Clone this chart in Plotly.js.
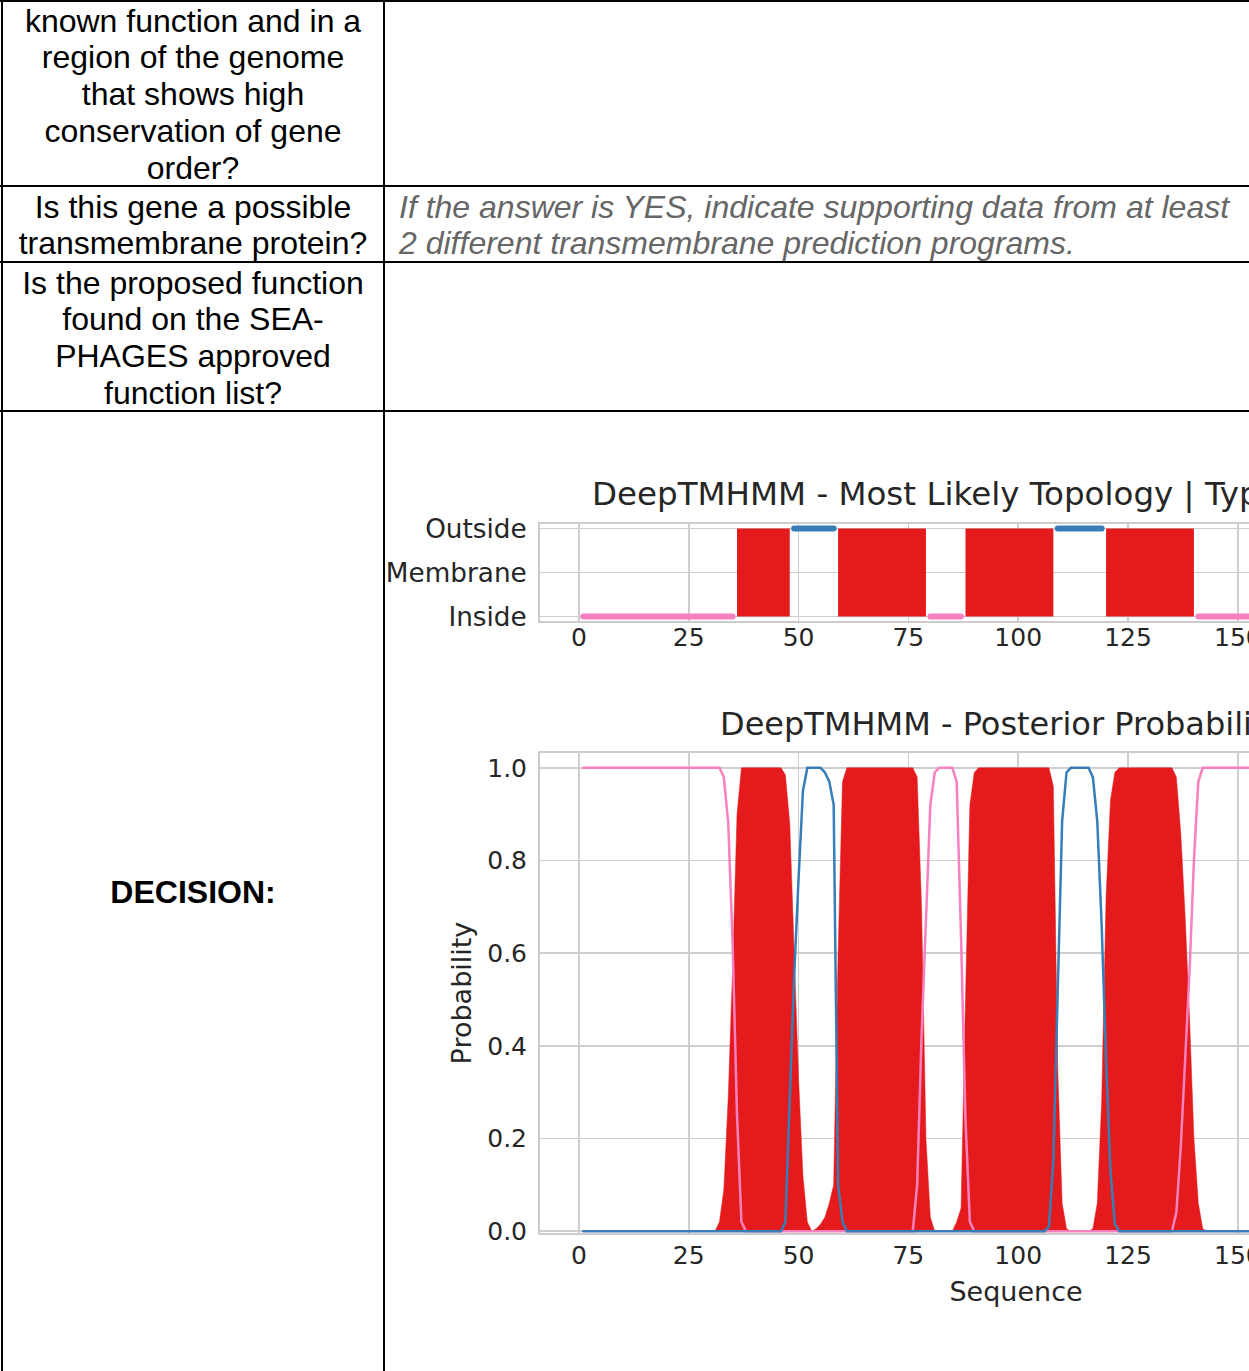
<!DOCTYPE html>
<html>
<head>
<meta charset="utf-8">
<script src="https://cdn.plot.ly/plotly-3.0.1.min.js"></script>
<style>
  html, body { margin:0; padding:0; background:#fff; }
  body { width:1249px; height:1371px; overflow:hidden; position:relative; }
  .ln { position:absolute; background:#000; }
  .txt { position:absolute; font-family:"Liberation Sans", Arial, sans-serif; font-size:32px; line-height:36.75px; color:#000; white-space:nowrap; }
  .left { left:3px; width:380px; text-align:center; }
  .chart { position:absolute; }
  .js-line { stroke-linecap: round; }
</style>
</head>
<body>
<!-- table borders -->
<div class="ln" style="left:0px; top:0px; width:1249px; height:2px;"></div>
<div class="ln" style="left:1px; top:0px; width:2px; height:1371px;"></div>
<div class="ln" style="left:383px; top:0px; width:2px; height:1371px;"></div>
<div class="ln" style="left:0px; top:185px; width:1249px; height:2px;"></div>
<div class="ln" style="left:0px; top:261px; width:1249px; height:2px;"></div>
<div class="ln" style="left:0px; top:410px; width:1249px; height:2px;"></div>

<div class="txt left" style="top:2.6px;">known function and in a<br>region of the genome<br>that shows high<br>conservation of gene<br>order?</div>
<div class="txt left" style="top:188.6px;">Is this gene a possible<br>transmembrane protein?</div>
<div class="txt left" style="top:264.6px;">Is the proposed function<br>found on the SEA-<br>PHAGES approved<br>function list?</div>
<div class="txt left" style="top:873.6px; font-weight:bold;">DECISION:</div>
<div class="txt" style="left:399px; top:188.6px; font-style:italic; color:#666666;">If the answer is YES, indicate supporting data from at least<br>2 different transmembrane prediction programs.</div>

<div id="topo" class="chart" style="left:384px; top:440px; width:1130px; height:230px;"></div>
<div id="post" class="chart" style="left:384px; top:680px; width:1130px; height:660px;"></div>

<script>
// ---- Data: most likely topology (1-based residue ranges) ----
const topoState = ['inside', 'membrane', 'outside', 'membrane', 'inside', 'membrane', 'outside', 'membrane', 'inside'];
const topoStart = [1, 36, 49, 59, 80, 88, 109, 120, 141];
const topoEnd   = [35, 48, 58, 79, 87, 108, 119, 140, 198];
const stateLabels = ['Inside', 'Membrane', 'Outside'];

// ---- Data: posterior probabilities (vertices) ----
const insideX = [1, 32, 33, 34, 35, 36, 37, 38, 76, 77, 78, 79, 80, 81, 82, 85, 86, 87, 88, 89, 90, 135, 136, 137, 138, 139, 140, 141, 142, 198];
const insideY = [1, 1, 0.98, 0.88, 0.62, 0.25, 0.02, 0, 0, 0.1, 0.42, 0.68, 0.92, 0.99, 1, 1, 0.97, 0.63, 0.24, 0.02, 0, 0, 0.04, 0.18, 0.38, 0.56, 0.8, 0.97, 1, 1];

const membraneX = [1, 31, 32, 33, 34, 35, 36, 37, 46, 47, 48, 49, 50, 51, 52, 53, 54, 55, 56, 57, 58, 59, 60, 61, 76, 77, 78, 79, 80, 81, 85, 86, 87, 88, 89, 90, 91, 107, 108, 109, 110, 111, 112, 116, 117, 118, 119, 120, 121, 122, 123, 135, 136, 137, 138, 139, 140, 141, 142, 143, 198];
const membraneY = [0, 0, 0.02, 0.09, 0.29, 0.57, 0.9, 1, 1, 0.985, 0.88, 0.6, 0.33, 0.12, 0.02, 0, 0.005, 0.015, 0.03, 0.06, 0.1, 0.6, 0.97, 1, 1, 0.98, 0.7, 0.2, 0.03, 0, 0, 0.02, 0.05, 0.5, 0.92, 0.99, 1, 1, 0.96, 0.35, 0.06, 0.005, 0, 0, 0.005, 0.06, 0.28, 0.72, 0.93, 0.99, 1, 1, 0.98, 0.86, 0.68, 0.46, 0.2, 0.06, 0.005, 0, 0];

const outsideX = [1, 46, 47, 48, 49, 50, 51, 52, 55, 56, 57, 58, 59, 60, 61, 106, 107, 108, 109, 110, 111, 112, 116, 117, 118, 119, 120, 121, 122, 123, 198];
const outsideY = [0, 0, 0.02, 0.28, 0.55, 0.76, 0.95, 1, 1, 0.99, 0.97, 0.92, 0.1, 0.02, 0, 0, 0.01, 0.15, 0.52, 0.885, 0.99, 1, 1, 0.98, 0.885, 0.66, 0.37, 0.13, 0.015, 0, 0];

// ---- Styles ----
const RED = '#e41a1c', BLUE = '#377eb8', PINK = '#f781bf';
const TXT = '#262626';
const FONT = 'DejaVu Sans, Verdana, sans-serif';
const stateLevel = {inside: 0, membrane: 1, outside: 2};

// Build topology traces from the segment arrays
const memX = [], memY = [], inX = [], inY = [], outX = [], outY = [];
topoState.forEach((s, i) => {
  const a = topoStart[i], b = topoEnd[i];
  if (s === 'membrane') {
    memX.push(a, a, b, b, a, null);
    memY.push(stateLevel.inside, stateLevel.outside, stateLevel.outside, stateLevel.inside, stateLevel.inside, null);
  } else if (s === 'inside') {
    inX.push(a, b, null); inY.push(stateLevel.inside, stateLevel.inside, null);
  } else {
    outX.push(a, b, null); outY.push(stateLevel.outside, stateLevel.outside, null);
  }
});

function axisBase(fs) {
  return {
    showgrid: true, gridcolor: '#cecece', gridwidth: 1.6,
    showline: true, mirror: true, linecolor: '#cccccc', linewidth: 2,
    zeroline: false, ticks: '', fixedrange: true,
    tickfont: {family: FONT, size: fs, color: TXT}
  };
}

const xRange = [-8.85, 207.85];

const topoTraces = [
  {x: memX, y: memY, type: 'scatter', mode: 'lines', fill: 'toself', fillcolor: RED, line: {width: 0, color: RED}, hoverinfo: 'skip'},
  {x: inX, y: inY, type: 'scatter', mode: 'lines', line: {width: 6, color: PINK}, hoverinfo: 'skip'},
  {x: outX, y: outY, type: 'scatter', mode: 'lines', line: {width: 6, color: BLUE}, hoverinfo: 'skip'}
];

const topoLayout = {
  width: 1130, height: 230,
  margin: {l: 156, r: 22, t: 84, b: 49, pad: 0},
  paper_bgcolor: 'rgba(0,0,0,0)', plot_bgcolor: '#ffffff',
  showlegend: false,
  title: {text: 'DeepTMHMM - Most Likely Topology | Type: Alpha TM', font: {family: FONT, size: 32.5, color: TXT},
          xref: 'paper', x: (592 - 540) / 952, xanchor: 'left', yref: 'container', y: 1 - (494 - 440) / 230, yanchor: 'middle'},
  xaxis: Object.assign(axisBase(25), {range: xRange, tick0: 0, dtick: 25, ticklabelstandoff: -7}),
  yaxis: Object.assign(axisBase(26.3), {range: [-0.1, 2.1], tickvals: [0, 1, 2], ticktext: stateLabels, ticklabelstandoff: 6})
};

const postTraces = [
  {x: membraneX, y: membraneY, type: 'scatter', mode: 'lines', fill: 'tozeroy', fillcolor: RED, line: {width: 0.5, color: RED}, hoverinfo: 'skip'},
  {x: insideX, y: insideY, type: 'scatter', mode: 'lines', line: {width: 2.5, color: PINK}, hoverinfo: 'skip'},
  {x: outsideX, y: outsideY, type: 'scatter', mode: 'lines', line: {width: 2.5, color: BLUE}, hoverinfo: 'skip'}
];

const postLayout = {
  width: 1130, height: 660,
  margin: {l: 156, r: 22, t: 73, b: 107, pad: 0},
  paper_bgcolor: 'rgba(0,0,0,0)', plot_bgcolor: '#ffffff',
  showlegend: false,
  title: {text: 'DeepTMHMM - Posterior Probabilities', font: {family: FONT, size: 32, color: TXT},
          xref: 'paper', x: (720 - 540) / 952, xanchor: 'left', yref: 'container', y: 1 - (724 - 680) / 660, yanchor: 'middle'},
  xaxis: Object.assign(axisBase(25), {range: xRange, tick0: 0, dtick: 25, ticklabelstandoff: -1,
          title: {text: 'Sequence', font: {family: FONT, size: 27, color: TXT}, standoff: 13}}),
  yaxis: Object.assign(axisBase(25), {range: [-0.004, 1.032], tick0: 0, dtick: 0.2, tickformat: '.1f', ticklabelstandoff: 6,
          title: {text: 'Probability', font: {family: FONT, size: 27, color: TXT}, standoff: 8}})
};

const cfg = {staticPlot: true, displayModeBar: false};
Plotly.newPlot('topo', topoTraces, topoLayout, cfg);
Plotly.newPlot('post', postTraces, postLayout, cfg);
</script>
</body>
</html>
